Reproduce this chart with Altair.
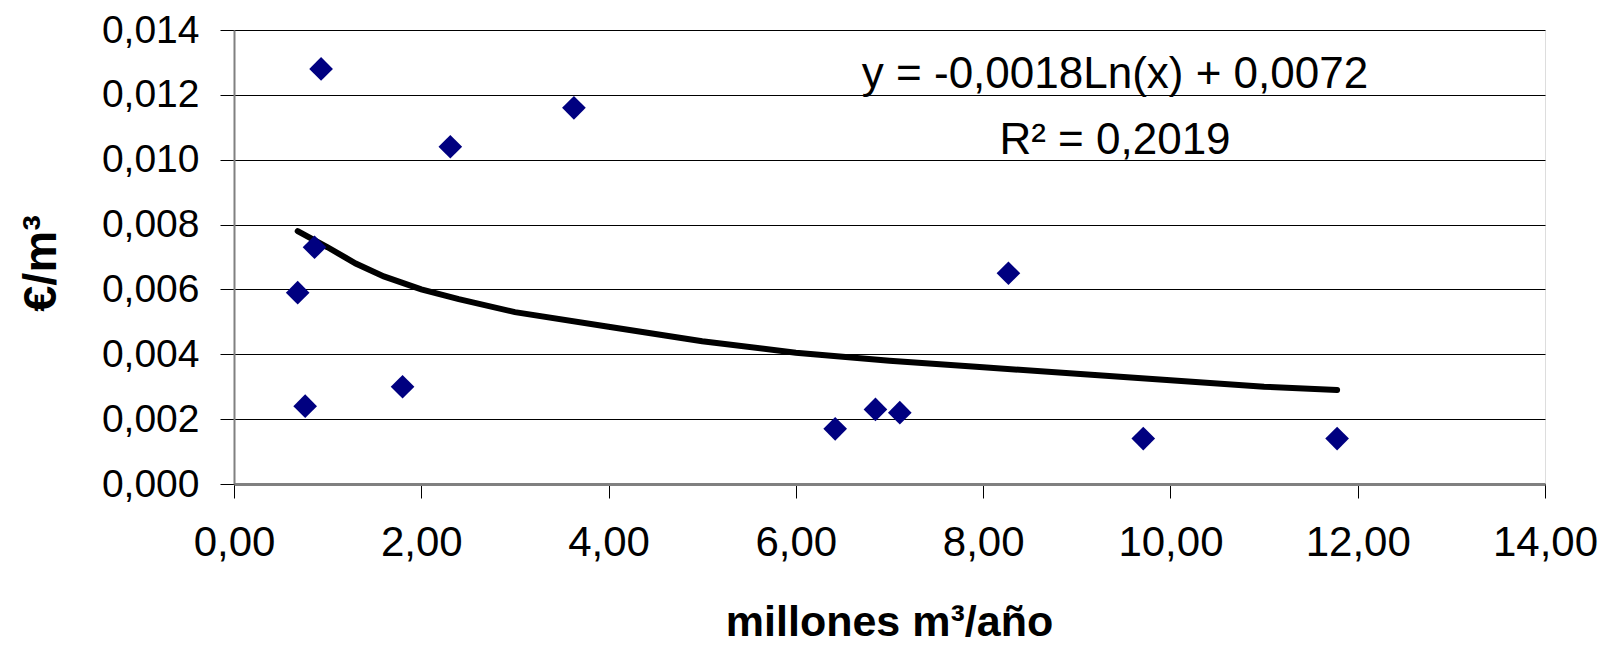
import altair as alt
import pandas as pd

# Scatter points (millones m3/año, €/m3)
x_vals = [0.68, 0.76, 0.86, 0.93, 1.80, 2.31, 3.63, 6.42, 6.85, 7.11, 8.27, 9.71, 11.78]
y_vals = [0.0059, 0.0024, 0.0073, 0.0128, 0.0030, 0.0104, 0.0116, 0.0017, 0.0023, 0.0022, 0.0065, 0.0014, 0.0014]

# Trend line
trend_x = [0.68, 1.0, 1.3, 1.6, 2.0, 2.4, 3.0, 4.0, 5.0, 6.0, 7.0, 8.0, 9.0, 10.0, 11.0, 11.78]
trend_y = [0.0078, 0.0073, 0.0068, 0.0064, 0.0060, 0.0057, 0.0053, 0.00485, 0.0044, 0.00405, 0.0038, 0.0036, 0.0034, 0.0032, 0.0030, 0.0029]

eq_lines = ["y = -0,0018Ln(x) + 0,0072", "R² = 0,2019"]

x_ticks = [0, 2, 4, 6, 8, 10, 12, 14]
y_ticks = [0, 0.002, 0.004, 0.006, 0.008, 0.010, 0.012, 0.014]

FONT = "Liberation Sans"

pts = pd.DataFrame({"x": x_vals, "y": y_vals})
trend = pd.DataFrame({"x": trend_x, "y": trend_y})

xscale = alt.Scale(domain=[0, 14], nice=False, zero=False)
yscale = alt.Scale(domain=[0, 0.014], nice=False)

xaxis = alt.Axis(
    values=x_ticks,
    title="millones m³/año",
    labelExpr="replace(format(datum.value, '.2f'), '.', ',')",
    labelFont=FONT, labelFontSize=42, labelColor="black", labelPadding=24,
    labelFlush=False, labelOverlap=False,
    tickSize=14, tickColor="black", tickWidth=1,
    domainColor="#808080", domainWidth=3,
    grid=False,
    titleFont=FONT, titleFontSize=43, titleFontWeight="bold", titleColor="black",
    titleBaseline="alphabetic", titleY=151, titleX=655, titleAlign="center",
)
yaxis = alt.Axis(
    values=y_ticks,
    title="€/m³",
    labelExpr="replace(format(datum.value, '.3f'), '.', ',')",
    labelFont=FONT, labelFontSize=39, labelColor="black", labelPadding=21,
    labelFlush=False, labelOverlap=False,
    tickSize=14, tickColor="black", tickWidth=1,
    domainColor="#808080", domainWidth=2,
    grid=True, gridColor="black", gridWidth=1,
    titleFont=FONT, titleFontSize=47, titleFontWeight="bold", titleColor="black",
    titleAngle=270, titleAlign="center", titleBaseline="middle",
    titleX=-193, titleY=233,
)

points = alt.Chart(pts).mark_point(
    shape="diamond", filled=True, size=560, color="#000080", opacity=1
).encode(
    x=alt.X("x:Q", scale=xscale, axis=xaxis),
    y=alt.Y("y:Q", scale=yscale, axis=yaxis),
)

line = alt.Chart(trend).mark_line(color="black", strokeWidth=6, strokeCap="round").encode(
    x=alt.X("x:Q", scale=xscale),
    y=alt.Y("y:Q", scale=yscale),
)

ann_df = pd.DataFrame({"t": eq_lines})
ann1 = alt.Chart(ann_df.iloc[[0]]).mark_text(
    font=FONT, fontSize=44, color="black", align="center", baseline="middle"
).encode(text="t:N", x=alt.value(881), y=alt.value(45))
ann2 = alt.Chart(ann_df.iloc[[1]]).mark_text(
    font=FONT, fontSize=44, color="black", align="center", baseline="middle"
).encode(text="t:N", x=alt.value(881), y=alt.value(111))

chart = alt.layer(line, points, ann1, ann2).properties(
    width=1311, height=454,
    autosize=alt.AutoSizeParams(type="none"),
    padding={"left": 226, "top": 22, "right": 60, "bottom": 159},
).configure_view(stroke="#808080", strokeWidth=3, fill="white").configure(background="white")

chart.save("out.html", embed_options={"renderer": "svg", "actions": False})
